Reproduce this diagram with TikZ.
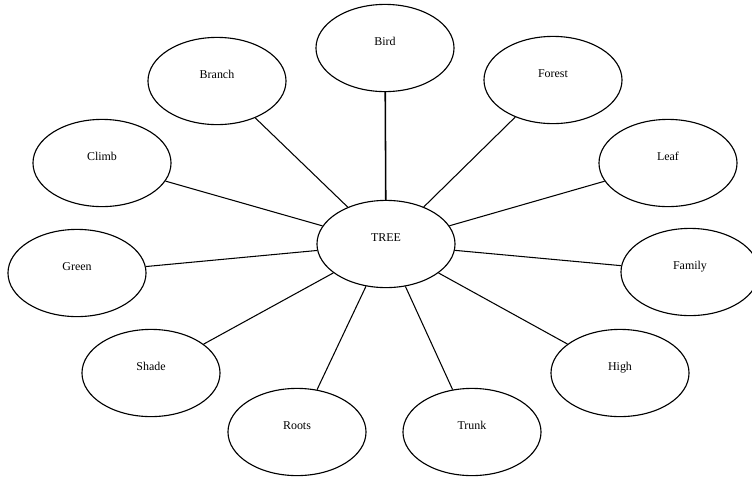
\documentclass[tikz,border=0pt]{standalone}
\usepackage{fontspec}
\setmainfont{Liberation Serif}
\usepackage{tikz}
\usetikzlibrary{shapes.geometric}

\begin{document}
\begin{tikzpicture}[x=0.025cm, y=-0.025cm,
	word/.style={draw, ellipse, line width=0.8pt, minimum width=3.45cm, minimum height=2.18cm,
		font=\fontsize{8.5}{10}\selectfont, text height=6pt, text depth=9pt},
	link/.style={line width=0.75pt}]
				\useasboundingbox (0,0) rectangle (752,476);
				%%%nodes
				%centre
				\node[word] at (386,244) (tree){TREE};
				%top
				\node[word] at (385,48) (bird){Bird};
				\node[word] at (217,81) (branch){Branch};
				\node[word] at (553,80) (forest){Forest};
				%left side
				\node[word] at (102,163) (climb){Climb};
				\node[word] at (77,273) (green){Green};
				\node[word] at (151,373) (shade){Shade};
				%right side
				\node[word] at (668,163) (leaf){Leaf};
				\node[word] at (690,272) (family){Family};
				\node[word] at (620,373) (high){High};
				%bottom
				\node[word] at (297,432) (roots){Roots};
				\node[word] at (472,432) (trunk){Trunk};
				%%%links
				\draw[link, line width=1.1pt] (tree) -- (bird);
				\draw[link] (tree) -- (branch);
				\draw[link] (tree) -- (forest);
				\draw[link] (tree) -- (climb);
				\draw[link] (tree) -- (leaf);
				\draw[link] (tree) -- (green);
				\draw[link] (tree) -- (family);
				\draw[link] (tree) -- (shade);
				\draw[link] (tree) -- (high);
				\draw[link] (tree) -- (roots);
				\draw[link] (tree) -- (trunk);
			\end{tikzpicture}
\end{document}
